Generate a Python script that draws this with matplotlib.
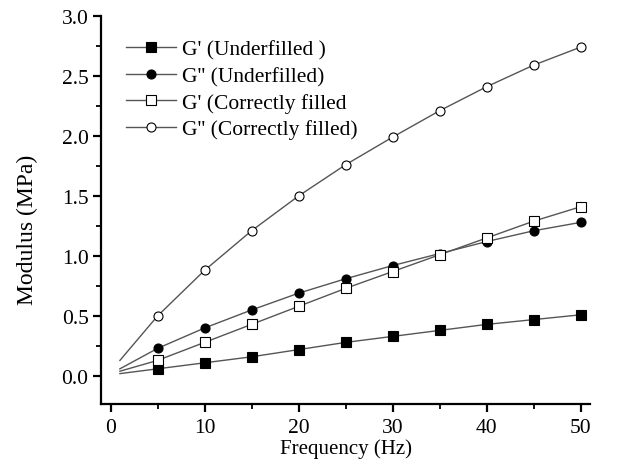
import numpy as np
import matplotlib
matplotlib.use("Agg")
import matplotlib.pyplot as plt
from matplotlib.ticker import MultipleLocator, FormatStrFormatter

## Data
freq = [1, 5, 10, 15, 20, 25, 30, 35, 40, 45, 50]
g1_under   = [0.02, 0.06, 0.11, 0.16, 0.22, 0.28, 0.33, 0.38, 0.43, 0.47, 0.51]
g2_under   = [0.06, 0.23, 0.40, 0.55, 0.69, 0.81, 0.92, 1.02, 1.12, 1.21, 1.28]
g1_correct = [0.04, 0.13, 0.28, 0.43, 0.58, 0.73, 0.87, 1.01, 1.15, 1.29, 1.41]
g2_correct = [0.13, 0.50, 0.88, 1.21, 1.50, 1.76, 1.99, 2.21, 2.41, 2.59, 2.74]

labels = ["G' (Underfilled )", "G'' (Underfilled)",
          "G' (Correctly filled", "G'' (Correctly filled)"]

plt.rcParams["font.family"] = ["Liberation Serif", "DejaVu Serif"]

fig = plt.figure( figsize = ( 6.44 , 4.6 ) , dpi = 100 )
ax = fig.add_axes( [ 0.157 , 0.1196 , 0.759 , 0.8435 ] )

styles = [ ( g1_under   , "s" , "black" ) ,
           ( g2_under   , "o" , "black" ) ,
           ( g1_correct , "s" , "white" ) ,
           ( g2_correct , "o" , "white" ) ]

x = np.array(freq)
for ( y , m , fc ) , lab in zip( styles , labels ):
	ax.plot( x , np.array(y) , color = "#555555" , linewidth = 1.0 , marker = m ,
	         markersize = 6.5 , markerfacecolor = fc , markeredgecolor = "black" ,
	         markeredgewidth = 0.8 , markevery = list(range(1, len(x))) , label = lab )

ax.set_xlim( -1 , 51 )
ax.set_ylim( -0.233 , 3.0 )
ax.xaxis.set_major_locator( MultipleLocator(10) )
ax.xaxis.set_minor_locator( MultipleLocator(5) )
ax.yaxis.set_major_locator( MultipleLocator(0.5) )
ax.yaxis.set_minor_locator( MultipleLocator(0.25) )
ax.yaxis.set_major_formatter( FormatStrFormatter("%.1f") )

for s in ["top","right"]:
	ax.spines[s].set_visible(False)
for s in ["left","bottom"]:
	ax.spines[s].set_linewidth(1.6)
ax.tick_params( which = "major" , direction = "out" , length = 5.5 , width = 1.6 , labelsize = 15.5 )
ax.tick_params( which = "minor" , direction = "out" , length = 3.5 , width = 1.3 )
ax.tick_params( axis = "x" , which = "major" , pad = 4.5 )
ax.tick_params( axis = "y" , which = "major" , pad = 3.5 )

ax.set_xlabel( "Frequency (Hz)" , fontsize = 15 , labelpad = 1 )
ax.set_ylabel( "Modulus (MPa)" , fontsize = 17 , labelpad = 17 )
ax.yaxis.label.set_y( 0.451 )

ax.legend( loc = "upper left" , bbox_to_anchor = ( 0.025 , 0.972 ) , frameon = False ,
           fontsize = 15.5 , handlelength = 2.3 , labelspacing = 0.3 , handletextpad = 0.3 ,
           borderaxespad = 0.2 )

fig.savefig( "out.png" , dpi = 100 )
